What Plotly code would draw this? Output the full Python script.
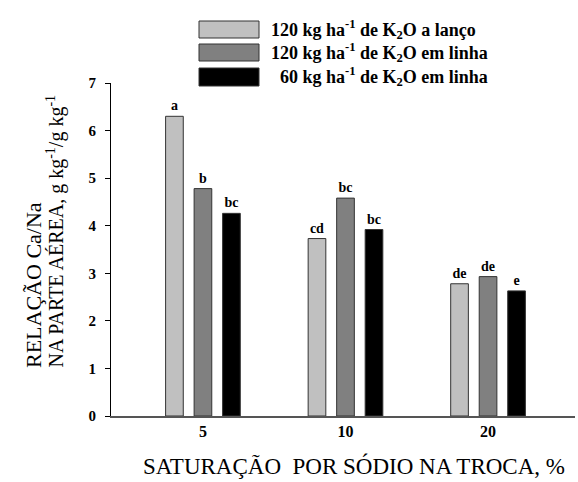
import plotly.graph_objects as go

categories = ["5", "10", "20"]
series_names = [
    "120 kg ha<sup>-1</sup> de K<sub>2</sub>O a lanço",
    "120 kg ha<sup>-1</sup> de K<sub>2</sub>O em linha",
    "60 kg ha<sup>-1</sup> de K<sub>2</sub>O em linha",
]
lanco_120 = [6.30, 3.73, 2.78]
linha_120 = [4.78, 4.58, 2.93]
linha_60 = [4.26, 3.92, 2.63]
letters_lanco_120 = ["a", "cd", "de"]
letters_linha_120 = ["b", "bc", "de"]
letters_linha_60 = ["bc", "bc", "e"]
y_ticks = [0, 1, 2, 3, 4, 5, 6, 7]

colors = ["#c0c0c0", "#808080", "#000000"]
SERIF = "Liberation Serif"

xpos = list(range(len(categories)))
fig = go.Figure()
for name, vals, labs, col in zip(series_names,
                                  [lanco_120, linha_120, linha_60],
                                  [letters_lanco_120, letters_linha_120, letters_linha_60],
                                  colors):
    fig.add_trace(go.Bar(
        x=xpos, y=vals, name=name, text=labs, textposition="outside",
        textfont=dict(family=SERIF, size=14, color="black", weight="bold"),
        marker=dict(color=col, line=dict(color="#333333", width=1)),
        cliponaxis=False, showlegend=False,
    ))

L, R, T, B = 111, 3, 83, 66
W, H = 578, 482
pw, ph = W - L - R, H - T - B

def px(xp):
    return (xp - L) / pw

def py(yp):
    return (H - B - yp) / ph

shapes = []
annotations = []
legend_rows = [(21, 38, 269), (44, 61, 269), (68, 86, 278)]
for (y0, y1, tx), col, name in zip(legend_rows, colors, series_names):
    shapes.append(dict(type="rect", xref="paper", yref="paper",
                       x0=px(199), x1=px(259), y0=py(y1), y1=py(y0),
                       fillcolor=col, line=dict(color="#333333", width=1)))
    annotations.append(dict(xref="paper", yref="paper", x=px(tx), y=py((y0 + y1) / 2),
                            xanchor="left", yanchor="middle", showarrow=False,
                            text=name,
                            font=dict(family=SERIF, size=18, color="black", weight="bold")))

annotations.append(dict(xref="paper", yref="paper", x=px(33), y=py(370),
                        xanchor="center", yanchor="bottom", showarrow=False, textangle=-90,
                        text="RELAÇÃO Ca/Na",
                        font=dict(family=SERIF, size=22, color="black")))
annotations.append(dict(xref="paper", yref="paper", x=px(55), y=py(370),
                        xanchor="center", yanchor="bottom", showarrow=False, textangle=-90,
                        text="NA PARTE AÉREA, g kg<sup>-1</sup>/g kg<sup>-1</sup>",
                        font=dict(family=SERIF, size=20, color="black")))
annotations.append(dict(xref="paper", yref="paper", x=px(354), y=py(466),
                        xanchor="center", yanchor="middle", showarrow=False,
                        text="SATURAÇÃO  POR SÓDIO NA TROCA, %",
                        font=dict(family=SERIF, size=23, color="black")))

fig.update_layout(
    width=W, height=H,
    margin=dict(l=L, r=R, t=T, b=B, pad=0),
    paper_bgcolor="white", plot_bgcolor="white",
    barmode="group", bargap=0.4, bargroupgap=0.38,
    showlegend=False,
    shapes=shapes, annotations=annotations,
    xaxis=dict(range=[-0.645, 2.61], tickvals=xpos, ticktext=categories,
               showgrid=False, zeroline=False, showline=True, linecolor="#555555",
               linewidth=1.5, ticks="",
               tickfont=dict(family=SERIF, size=16, color="black", weight="bold")),
    yaxis=dict(range=[0, 7], tickvals=y_ticks, showgrid=False, zeroline=False,
               showline=True, linecolor="black", linewidth=1, ticks="outside",
               ticklen=5, tickcolor="black", ticklabelstandoff=6,
               tickfont=dict(family=SERIF, size=15, color="black", weight="bold")),
)

fig.write_html("out.html", config={"displayModeBar": False},
               post_script="document.body.style.margin='0';")
